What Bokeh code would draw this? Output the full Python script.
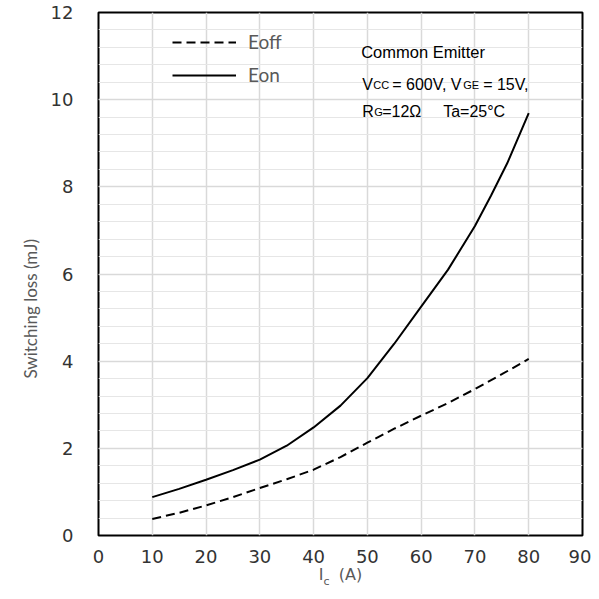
import numpy as np
from bokeh.plotting import figure
from bokeh.models import Range1d, FixedTicker, Label, Legend, LegendItem, LinearAxis
from bokeh.embed import file_html
from bokeh.resources import INLINE

# ---- data ----
ic_off = [10, 15, 20, 25, 30, 35, 40, 45, 50, 55, 60, 65, 70, 75, 80]
eoff = [0.38, 0.52, 0.69, 0.88, 1.09, 1.29, 1.51, 1.80, 2.13, 2.45, 2.75, 3.04, 3.36, 3.70, 4.05]
ic_on = [10, 15, 20, 25, 30, 35, 40, 45, 50, 55, 60, 65, 70, 73, 76, 80]
eon = [0.88, 1.07, 1.28, 1.50, 1.74, 2.06, 2.48, 2.98, 3.61, 4.40, 5.25, 6.10, 7.10, 7.80, 8.54, 9.69]

x_ticks = [0, 10, 20, 30, 40, 50, 60, 70, 80, 90]
y_ticks = [0, 2, 4, 6, 8, 10, 12]
y_minor = [round(v * 0.4, 1) for v in range(0, 31)]

NB = "\u00a0"

p = figure(width=591, height=591, output_backend="svg", toolbar_location=None,
           x_range=Range1d(0, 90), y_range=Range1d(0, 12),
           min_border_left=98, min_border_right=9, min_border_top=12, min_border_bottom=56)
p.background_fill_color = "white"
p.border_fill_color = "white"
p.outline_line_color = "black"
p.outline_line_width = 2

p.xaxis.ticker = FixedTicker(ticks=x_ticks)
p.yaxis.ticker = FixedTicker(ticks=y_ticks, minor_ticks=y_minor)
for ax in (p.xaxis[0], p.yaxis[0]):
    ax.axis_line_color = None
    ax.major_tick_line_color = None
    ax.minor_tick_line_color = None
    ax.major_tick_out = 0
    ax.major_tick_in = 0
    ax.major_label_text_font = "DejaVu Sans"
    ax.major_label_text_font_size = "18px"
    ax.major_label_text_color = "#333333"
p.yaxis.major_label_standoff = 21
p.xaxis.major_label_standoff = 14

p.yaxis.axis_label = "Switching loss (mJ)" + NB * 16
p.yaxis.axis_label_text_font = "Lato"
p.yaxis.axis_label_text_font_style = "normal"
p.yaxis.axis_label_text_font_size = "17px"
p.yaxis.axis_label_text_color = "#595959"
p.yaxis.axis_label_standoff = 7

# x axis title: "I" ... "(A)" with a subscript "c" from a second, label-only axis
p.xaxis.axis_label = "I" + NB * 3 + "(A)"
p.xaxis.axis_label_text_font = "DejaVu Sans"
p.xaxis.axis_label_text_font_style = "normal"
p.xaxis.axis_label_text_font_size = "16px"
p.xaxis.axis_label_text_color = "#595959"
p.xaxis.axis_label_standoff = -1

sub_ax = LinearAxis(ticker=FixedTicker(ticks=[]), axis_line_color=None,
                    major_tick_line_color=None, minor_tick_line_color=None,
                    major_tick_out=0, major_tick_in=0, major_label_standoff=0,
                    axis_label="c" + NB * 8, axis_label_text_font="DejaVu Sans",
                    axis_label_text_font_style="normal", axis_label_text_font_size="11px",
                    axis_label_text_color="#595959", axis_label_standoff=-12)
p.add_layout(sub_ax, "below")

p.xgrid.grid_line_color = "#d9d9d9"
p.xgrid.grid_line_width = 1.5
p.ygrid.grid_line_color = "#d9d9d9"
p.ygrid.grid_line_width = 1.5
p.ygrid.minor_grid_line_color = "#e6e6e6"
p.ygrid.minor_grid_line_width = 1

r_off = p.line(ic_off, eoff, line_color="black", line_width=2, line_dash="9 5")
r_on = p.line(ic_on, eon, line_color="black", line_width=2)

legend = Legend(items=[LegendItem(label="Eoff", renderers=[r_off]),
                       LegendItem(label="Eon", renderers=[r_on])],
                location=(74, 449), orientation="vertical",
                glyph_width=64, glyph_height=20, label_height=20, spacing=10,
                label_standoff=12, padding=0, margin=0,
                label_text_font="Lato", label_text_font_size="19px",
                label_text_color="#595959",
                background_fill_alpha=0, border_line_color=None)
p.add_layout(legend)

def xd(s):
    return (s - 98.3) / 5.378

def yd(s):
    return (535 - s) / 43.58

def lab(text, sx, sy, size="16px", font="Liberation Sans", color="black"):
    p.add_layout(Label(x=xd(sx), y=yd(sy), text=text, text_font=font,
                       text_font_size=size, text_color=color,
                       text_baseline="alphabetic", text_align="left"))

lab("Common Emitter", 361, 52, size="16.5px")
lab("V", 362, 84.5)
lab("CC", 373, 84.5, size="11px")
lab("= 600V, V", 392, 84.5)
lab("GE", 463, 84.5, size="11px")
lab("= 15V,", 483, 84.5)
lab("R", 362, 111.5)
lab("G", 374, 111.5, size="11px")
lab("=12Ω", 382, 111.5)
lab("Ta=25°C", 443, 111.5)

open("out.html", "w").write(file_html(p, INLINE))
